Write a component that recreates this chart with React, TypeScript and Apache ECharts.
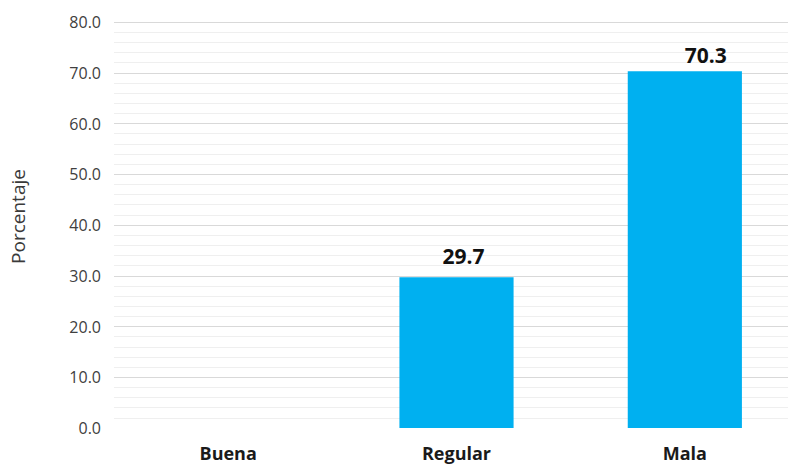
import React, { useEffect, useRef } from "react";
import * as echarts from "echarts";

const categories = ["Buena", "Regular", "Mala"];
const values = [0, 29.7, 70.3];
// label nudges (x, y) in px for each bar's value label
const labelOffsets = [
  [0, 0],
  [7, -5],
  [21, 0],
];
const yTicks = { min: 0, max: 80, interval: 10 };
const yName = "Porcentaje";

export default function App() {
  const ref = useRef<HTMLDivElement>(null);

  useEffect(() => {
    if (!ref.current) return;
    const chart = echarts.init(ref.current, undefined, { renderer: "svg" });
    chart.setOption({
      animation: false,
      textStyle: { fontFamily: "Open Sans" },
      grid: { left: 112, top: 22, right: 1, bottom: 38, containLabel: false },
      xAxis: {
        type: "category",
        data: categories,
        axisLine: { show: false },
        axisTick: { show: false },
        axisLabel: {
          fontSize: 18,
          fontWeight: "bold",
          color: "#1a1a1a",
          margin: 16,
        },
      },
      yAxis: {
        type: "value",
        min: yTicks.min,
        max: yTicks.max,
        interval: yTicks.interval,
        name: yName,
        nameLocation: "middle",
        nameGap: 87,
        nameTextStyle: {
          fontSize: 19,
          color: "#3a3a3a",
          fontFamily: "Open Sans",
          padding: [0, 0, 0, 17],
        },
        axisLine: { show: false },
        axisTick: { show: false },
        axisLabel: {
          fontSize: 16,
          color: "#404040",
          margin: 13,
          formatter: (v: number) => v.toFixed(1),
        },
        splitLine: { show: true, showMinLine: false, lineStyle: { color: "#d9d9d9", width: 1 } },
        minorTick: { show: false, splitNumber: 5 },
        minorSplitLine: { show: true, lineStyle: { color: "#efefef", width: 1 } },
      },
      series: [
        {
          type: "bar",
          data: values.map((v, i) => ({ value: v, label: { offset: labelOffsets[i] } })),
          barWidth: "50%",
          itemStyle: { color: "#00B0F0" },
          label: {
            show: true,
            position: "top",
            distance: 6,
            fontSize: 21,
            fontWeight: "bold",
            color: "#111",
            formatter: (p: any) => (p.value ? Number(p.value).toFixed(1) : ""),
          },
        },
      ],
    });
    return () => chart.dispose();
  }, []);

  return (
    <div
      style={{
        position: "absolute",
        left: 0,
        top: 0,
        width: 788,
        height: 466,
        overflow: "hidden",
        background: "#fff",
      }}
    >
      <div ref={ref} style={{ width: 800, height: 466 }} />
    </div>
  );
}
